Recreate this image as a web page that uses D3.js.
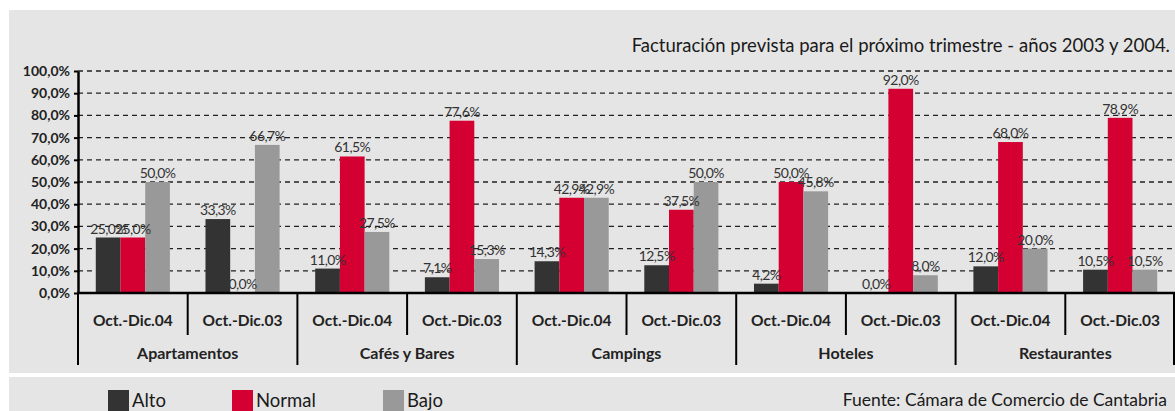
<!DOCTYPE html>
<html>
<head>
<meta charset="utf-8">
<script src="https://cdn.jsdelivr.net/npm/d3@7"></script>
<style>
  html, body { margin: 0; padding: 0; background: #fff; }
  svg { display: block; font-family: Lato, "Open Sans", sans-serif; }
</style>
</head>
<body>
<div id="chart"></div>
<script>
(function() {
  'use strict';

  // --- Data ---
  var groups = ['Apartamentos', 'Cafés y Bares', 'Campings', 'Hoteles', 'Restaurantes'];
  var periods = ['Oct.-Dic.04', 'Oct.-Dic.03'];
  var series = ['Alto', 'Normal', 'Bajo'];
  var colors = ['#333333', '#d50032', '#999999'];
  var alto   = [25.0, 33.3, 11.0, 7.1, 14.3, 12.5, 4.2, 0.0, 12.0, 10.5];
  var normal = [25.0, 0.0, 61.5, 77.6, 42.9, 37.5, 50.0, 92.0, 68.0, 78.9];
  var bajo   = [50.0, 66.7, 27.5, 15.3, 42.9, 50.0, 45.8, 8.0, 20.0, 10.5];
  var yTicks = [0, 10, 20, 30, 40, 50, 60, 70, 80, 90, 100];

  var width = 1175, height = 411;
  var left = 78, right = 1175, top = 71, bottom = 293;

  var svg = d3.select('#chart').append('svg')
    .attr('width', width).attr('height', height);

  // Panels
  svg.append('rect').attr('x', 9).attr('y', 10).attr('width', width - 9).attr('height', 363)
    .style('fill', '#e5e5e5');
  svg.append('rect').attr('x', 9).attr('y', 377).attr('width', width - 9).attr('height', 34)
    .style('fill', '#e5e5e5');

  // Title
  svg.append('text')
    .attr('x', 1170).attr('y', 52)
    .attr('text-anchor', 'end')
    .style('font-size', '18.5px')
    .style('fill', '#1a1a1a')
    .text('Facturación prevista para el próximo trimestre - años 2003 y 2004.');

  // Scales
  var keys = [];
  groups.forEach(function(g) { periods.forEach(function(p) { keys.push(g + '|' + p); }); });

  var x0 = d3.scaleBand().domain(keys).range([left, right]).padding(0);
  var x1 = d3.scaleBand().domain(series).range([0, x0.bandwidth()]).paddingInner(0).paddingOuter(0.72);
  var y = d3.scaleLinear().domain([0, 100]).range([bottom, top]);

  var fmt = function(v) { return v.toFixed(1).replace('.', ',') + '%'; };

  // Gridlines
  svg.append('g').selectAll('line')
    .data(yTicks.slice(1))
    .join('line')
    .attr('x1', left).attr('x2', right)
    .attr('y1', function(d) { return y(d); })
    .attr('y2', function(d) { return y(d); })
    .style('stroke', '#222')
    .style('stroke-width', 1.3)
    .style('stroke-dasharray', '5,4');

  // Y axis
  var yAxis = svg.append('g')
    .attr('transform', 'translate(' + left + ',0)')
    .call(d3.axisLeft(y).tickValues(yTicks).tickSize(4).tickSizeOuter(0).tickFormat(function(d) { return d.toFixed(1).replace('.', ',') + '%'; }));
  yAxis.select('.domain').style('stroke', '#000').style('stroke-width', 2.5);
  yAxis.selectAll('.tick line').style('stroke', '#000').style('stroke-width', 2);
  yAxis.selectAll('.tick text')
    .attr('x', -8)
    .style('font-size', '14px')
    .style('font-weight', '700')
    .style('fill', '#222')
    .style('font-family', 'Lato, sans-serif');

  // Bars
  var rows = keys.map(function(k, i) {
    return { key: k, values: [alto[i], normal[i], bajo[i]] };
  });

  var barG = svg.append('g').selectAll('g')
    .data(rows)
    .join('g')
    .attr('transform', function(d) { return 'translate(' + x0(d.key) + ',0)'; });

  barG.selectAll('rect')
    .data(function(d) { return d.values.map(function(v, j) { return { s: series[j], v: v, c: colors[j] }; }); })
    .join('rect')
    .attr('x', function(d) { return x1(d.s); })
    .attr('width', x1.bandwidth())
    .attr('y', function(d) { return y(d.v); })
    .attr('height', function(d) { return y(0) - y(d.v); })
    .style('fill', function(d) { return d.c; });

  barG.selectAll('text')
    .data(function(d) { return d.values.map(function(v, j) { return { s: series[j], v: v }; }); })
    .join('text')
    .attr('x', function(d) { return x1(d.s) + x1.bandwidth() / 2; })
    .attr('y', function(d) { return y(d.v) - 4; })
    .attr('text-anchor', 'middle')
    .style('font-size', '14px')
    .style('letter-spacing', '-0.6px')
    .style('fill', '#333')
    .text(function(d) { return fmt(d.v); });

  // X axis line
  svg.append('line')
    .attr('x1', left - 1).attr('x2', right)
    .attr('y1', bottom).attr('y2', bottom)
    .style('stroke', '#000').style('stroke-width', 2.5);

  // Category separators
  var sep = svg.append('g');
  keys.forEach(function(k, i) {
    var xv = x0(k);
    sep.append('line')
      .attr('x1', xv).attr('x2', xv)
      .attr('y1', bottom).attr('y2', i % 2 === 0 ? 365 : 335)
      .style('stroke', '#000').style('stroke-width', 2);
  });
  sep.append('line')
    .attr('x1', right - 1).attr('x2', right - 1)
    .attr('y1', bottom).attr('y2', 365)
    .style('stroke', '#000').style('stroke-width', 2);

  // Period labels
  svg.append('g').selectAll('text')
    .data(keys)
    .join('text')
    .attr('x', function(d) { return x0(d) + x0.bandwidth() / 2; })
    .attr('y', 326)
    .attr('text-anchor', 'middle')
    .style('font-size', '15.5px')
    .style('font-weight', '700')
    .style('fill', '#222')
    .text(function(d) { return d.split('|')[1]; });

  // Group labels
  svg.append('g').selectAll('text')
    .data(groups)
    .join('text')
    .attr('x', function(d) { return x0(d + '|' + periods[0]) + x0.bandwidth(); })
    .attr('y', 359)
    .attr('text-anchor', 'middle')
    .style('font-size', '16px')
    .style('font-weight', '700')
    .style('fill', '#222')
    .text(function(d) { return d; });

  // Legend
  var legX = [108, 232, 383];
  var leg = svg.append('g').selectAll('g')
    .data(series)
    .join('g')
    .attr('transform', function(d, i) { return 'translate(' + legX[i] + ',390)'; });
  leg.append('rect')
    .attr('width', 21).attr('height', 21)
    .style('fill', function(d, i) { return colors[i]; });
  leg.append('text')
    .attr('x', 24).attr('y', 17)
    .style('font-size', '18.5px')
    .style('fill', '#1a1a1a')
    .text(function(d) { return d; });

  svg.append('text')
    .attr('x', 1167).attr('y', 406)
    .attr('text-anchor', 'end')
    .style('font-size', '17.5px')
    .style('fill', '#1a1a1a')
    .text('Fuente: Cámara de Comercio de Cantabria');
})();
</script>
</body>
</html>
